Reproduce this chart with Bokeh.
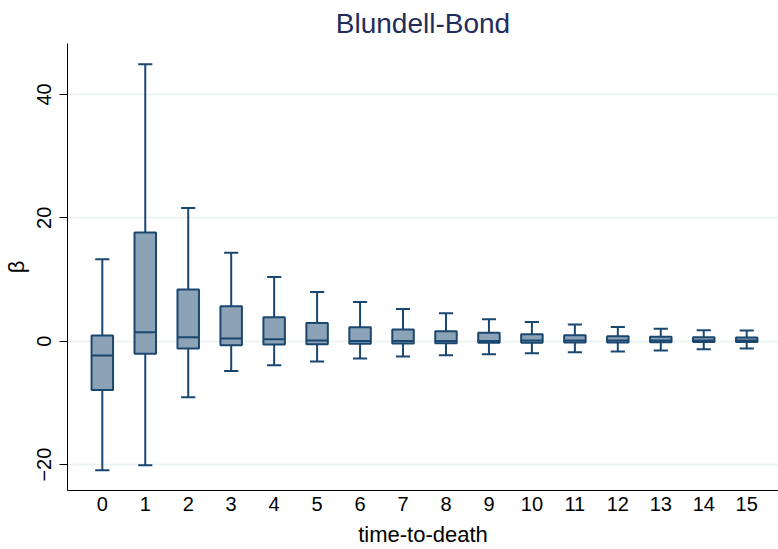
from bokeh.plotting import figure
from bokeh.models import ColumnDataSource, FixedTicker, Range1d
from bokeh.transform import dodge
from bokeh.embed import file_html
from bokeh.resources import INLINE

# data
time_to_death = list(range(16))
upper_whisker = [13.3, 44.9, 21.6, 14.35, 10.4, 7.98, 6.36, 5.23, 4.53, 3.56, 3.13, 2.7, 2.32, 2.0, 1.78, 1.73]
q3 = [0.92, 17.6, 8.36, 5.66, 3.88, 2.96, 2.27, 1.89, 1.62, 1.35, 1.13, 0.97, 0.81, 0.70, 0.65, 0.59]
median = [-2.3, 1.46, 0.65, 0.43, 0.32, 0.11, 0.05, 0.05, 0.03, 0.05, 0.12, 0.12, 0.12, 0.12, 0.12, 0.1]
q1 = [-7.9, -2.05, -1.19, -0.65, -0.54, -0.49, -0.43, -0.38, -0.32, -0.27, -0.27, -0.22, -0.22, -0.16, -0.14, -0.14]
lower_whisker = [-20.9, -20.1, -9.1, -4.85, -3.88, -3.3, -2.8, -2.48, -2.27, -2.1, -1.94, -1.78, -1.67, -1.5, -1.3, -1.18]
y_ticks = [-20, 0, 20, 40]

NAVY = "#1A476F"
FILL = "#8CA3B7"
FONT = "Liberation Sans"

src = ColumnDataSource(dict(x=time_to_death, uw=upper_whisker, q3=q3, med=median,
                            q1=q1, lw=lower_whisker))

p = figure(width=778, height=549, output_backend="svg", toolbar_location=None,
           x_range=Range1d(-0.81, 15.74), y_range=Range1d(-24.2, 48.25),
           min_border_left=66, min_border_right=0, min_border_top=42, min_border_bottom=59)
p.outline_line_color = None
p.background_fill_color = "white"
p.border_fill_color = "white"

# whiskers
p.segment(x0="x", y0="q3", x1="x", y1="uw", source=src, line_color=NAVY, line_width=2)
p.segment(x0="x", y0="lw", x1="x", y1="q1", source=src, line_color=NAVY, line_width=2)
# caps
p.segment(x0=dodge("x", -0.165, range=p.x_range), x1=dodge("x", 0.165, range=p.x_range),
          y0="uw", y1="uw", source=src, line_color=NAVY, line_width=2)
p.segment(x0=dodge("x", -0.165, range=p.x_range), x1=dodge("x", 0.165, range=p.x_range),
          y0="lw", y1="lw", source=src, line_color=NAVY, line_width=2)
# boxes
p.vbar(x="x", bottom="q1", top="q3", width=0.5, source=src, fill_color=FILL,
       line_color=NAVY, line_width=2)
# medians
p.segment(x0=dodge("x", -0.25, range=p.x_range), x1=dodge("x", 0.25, range=p.x_range),
          y0="med", y1="med", source=src, line_color=NAVY, line_width=2)

p.title.text = "Blundell-Bond"
p.title.align = "center"
p.title.text_font = FONT
p.title.text_font_size = "28px"
p.title.text_font_style = "normal"
p.title.text_color = "#1F2D5A"

# x axis
p.xaxis.ticker = FixedTicker(ticks=time_to_death)
p.xaxis.axis_label = "time-to-death"
p.xaxis.major_tick_out = 0
p.xaxis.major_tick_in = 0
p.xaxis.minor_tick_out = 0
p.xaxis.minor_tick_in = 0
p.xaxis.major_label_standoff = 6
p.xaxis.axis_label_standoff = 8
p.xaxis.axis_line_color = "black"

# y axis
p.yaxis.ticker = FixedTicker(ticks=y_ticks)
p.yaxis.axis_label = "β"
p.yaxis.major_tick_out = 8
p.yaxis.major_tick_in = 0
p.yaxis.minor_tick_out = 0
p.yaxis.minor_tick_in = 0
p.yaxis.major_label_orientation = "vertical"
p.yaxis.major_label_standoff = 8
p.yaxis.axis_label_standoff = 6
p.yaxis.axis_line_color = "black"
p.yaxis.major_tick_line_color = "black"

for ax in (p.xaxis, p.yaxis):
    ax.major_label_text_font = FONT
    ax.major_label_text_font_size = "20px"
    ax.major_label_text_color = "black"
    ax.axis_label_text_font = FONT
    ax.axis_label_text_font_size = "22px"
    ax.axis_label_text_font_style = "normal"
    ax.axis_label_text_color = "black"

p.xgrid.grid_line_color = None
p.ygrid.grid_line_color = "#EAF2F3"
p.ygrid.grid_line_width = 1.5

open("out.html", "w").write(file_html(p, INLINE))
